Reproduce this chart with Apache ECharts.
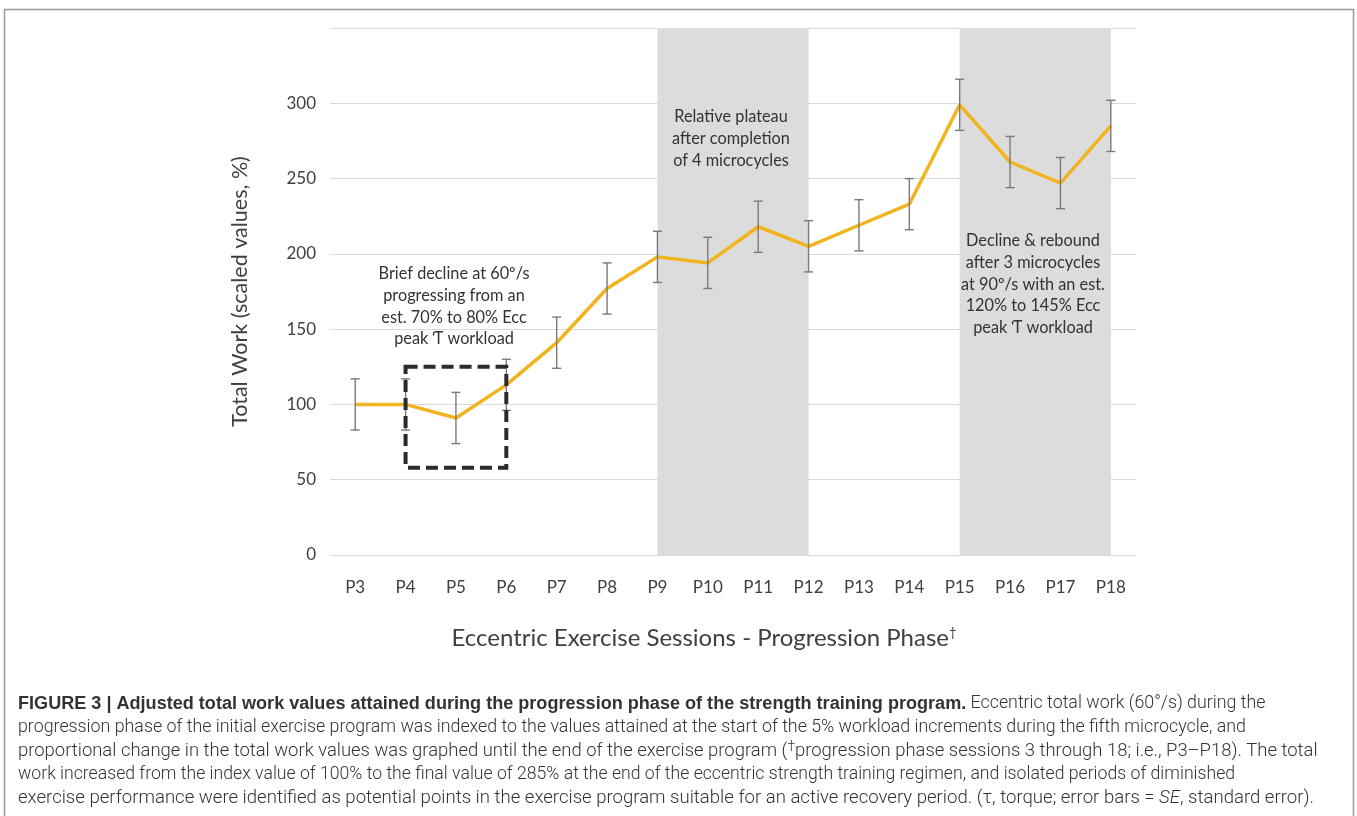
<!DOCTYPE html>
<html><head><meta charset="utf-8">
<script src="https://cdn.jsdelivr.net/npm/echarts@6/dist/echarts.min.js"></script>
<style>html,body{margin:0;padding:0;background:#fff}#c{width:1357px;height:816px}</style>
</head><body><div id="c"></div>
<script>
// ---- data ----
const categories = ['P3','P4','P5','P6','P7','P8','P9','P10','P11','P12','P13','P14','P15','P16','P17','P18'];
const totalWork  = [100, 100, 91, 113, 141, 177, 198, 194, 218, 205, 219, 233, 299, 261, 247, 285];
const stdError   = [17, 17, 17, 17, 17, 17, 17, 17, 17, 17, 17, 17, 17, 17, 17, 17];
const yMin = 0, yMax = 350, yInterval = 50;
const shadedBands = [['P9','P12'], ['P15','P18']];
const declineBox = { from: 'P4', to: 'P6', top: 125, bottom: 58 };
const yAxisTitle = 'Total Work (scaled values, %)';
const xAxisTitle = 'Eccentric Exercise Sessions - Progression Phase';
const noteDecline = ['Brief decline at 60º/s', 'progressing from an', 'est. 70% to 80% Ecc', 'peak Ƭ workload'];
const notePlateau = ['Relative plateau', 'after completion', 'of 4 microcycles'];
const noteRebound = ['Decline & rebound', 'after 3 microcycles', 'at 90º/s with an est.', '120% to 145% Ecc', 'peak Ƭ workload'];
const captionBold = 'FIGURE 3 | Adjusted total work values attained during the progression phase of the strength training program.';
const captionLines = [
  [['b', captionBold], ['n', ' Eccentric total work (60°/s) during the']],
  [['n', 'progression phase of the initial exercise program was indexed to the values attained at the start of the 5% workload increments during the fifth microcycle, and']],
  [['n', 'proportional change in the total work values was graphed until the end of the exercise program ('], ['sup', '†'], ['n', 'progression phase sessions 3 through 18; i.e., P3–P18). The total']],
  [['n', 'work increased from the index value of 100% to the final value of 285% at the end of the eccentric strength training regimen, and isolated periods of diminished']],
  [['n', 'exercise performance were identified as potential points in the exercise program suitable for an active recovery period. (τ, torque; error bars = '], ['i', 'SE'], ['n', ', standard error).']]
];
const captionLineEnds = [null, 1247, 1318, 1236, 1315];

// ---- layout helpers ----
const FONT = 'Lato, "Open Sans", sans-serif';
const CAP_FONT = 'Roboto';
const BOLD_FONT = '"Liberation Sans"';
const CAP_X = 18;
const mctx = document.createElement('canvas').getContext('2d');
function measure(str, font) { mctx.font = font; return mctx.measureText(str).width; }
const boldSize = 100 * 949 / measure(captionBold, 'bold 100px ' + BOLD_FONT);
function segFont(kind, size) {
  if (kind === 'b') return 'bold ' + boldSize + 'px ' + BOLD_FONT;
  if (kind === 'i') return 'italic 300 ' + size + 'px ' + CAP_FONT;
  if (kind === 'sup') return '300 ' + (size * 0.75) + 'px ' + CAP_FONT;
  return '300 ' + size + 'px ' + CAP_FONT;
}
function fitLine(segs, end) {
  let varW = 0;
  segs.forEach(([kind, txt]) => { varW += measure(txt, segFont(kind, 100)); });
  return 100 * (end - CAP_X) / varW;
}
const baseCapSize = fitLine(captionLines[1], captionLineEnds[1]);

const chart = echarts.init(document.getElementById('c'), null, { renderer: 'canvas' });

const errData = categories.map((c, i) => [i, totalWork[i], stdError[i]]);

function noteGraphic(lines, cx, top) {
  return {
    type: 'text', x: cx, y: top, z: 10,
    style: {
      text: lines.join('\n'), textAlign: 'center', textVerticalAlign: 'top',
      font: '16.3px ' + FONT, fill: '#333', lineHeight: 21.7
    }
  };
}

const graphics = [
  { type: 'rect', z: 0, shape: { x: 4.5, y: 9.5, width: 1349, height: 900 }, style: { fill: 'none', stroke: '#9a9a9a', lineWidth: 1.5 } },
  noteGraphic(noteDecline, 454, 263),
  noteGraphic(notePlateau, 731, 106),
  noteGraphic(noteRebound, 1033, 230)
];
captionLines.forEach((segs, k) => {
  const size = captionLineEnds[k] ? fitLine(segs, captionLineEnds[k]) : baseCapSize;
  const rich = {
    b: { fontFamily: BOLD_FONT, fontWeight: 'bold', fontSize: boldSize, color: '#1a1a1a' },
    n: { fontFamily: CAP_FONT, fontWeight: 300, fontSize: size, color: '#2e2e2e' },
    i: { fontFamily: CAP_FONT, fontWeight: 300, fontStyle: 'italic', fontSize: size, color: '#2e2e2e' },
    sup: { fontFamily: CAP_FONT, fontWeight: 300, fontSize: size * 0.75, color: '#2e2e2e', verticalAlign: 'top', padding: [0, 0, 6, 0] }
  };
  const text = segs.map(([kind, txt]) => '{' + kind + '|' + txt + '}').join('');
  graphics.push({
    type: 'text', x: CAP_X, y: 704 + k * 23.5, z: 10,
    style: { text: text, rich: rich, textVerticalAlign: 'middle', textAlign: 'left', fill: '#333', font: '300 ' + size + 'px ' + CAP_FONT }
  });
});

const option = {
  animation: false,
  backgroundColor: '#fff',
  textStyle: { fontFamily: FONT },
  grid: { left: 330, right: 221, top: 28, bottom: 261, containLabel: false },
  xAxis: {
    type: 'category', data: categories, boundaryGap: true,
    axisLine: { show: true, lineStyle: { color: '#d9d9d9', width: 1 } },
    axisTick: { show: false },
    axisLabel: { color: '#404040', fontSize: 17, margin: 24, fontFamily: FONT },
    name: xAxisTitle + '{sup|†}', nameLocation: 'middle', nameGap: 71,
    nameTextStyle: { color: '#404040', fontSize: 24, fontFamily: FONT, padding: [0, 58, 0, 0],
      rich: { sup: { fontSize: 13, color: '#404040', verticalAlign: 'top', padding: [0, 0, 12, 0], fontFamily: FONT } } }
  },
  yAxis: {
    type: 'value', min: yMin, max: yMax, interval: yInterval, z: 1,
    axisLine: { show: false }, axisTick: { show: false },
    axisLabel: { color: '#404040', fontSize: 17, margin: 14, showMaxLabel: false, fontFamily: FONT },
    splitLine: { lineStyle: { color: '#d9d9d9', width: 1 } },
    name: yAxisTitle, nameLocation: 'middle', nameRotate: 90, nameGap: 79,
    nameTextStyle: { color: '#404040', fontSize: 21.5, fontFamily: FONT }
  },
  graphic: graphics,
  series: [
    {
      name: 'bands', type: 'line', data: [], z: 0, silent: true,
      markArea: { silent: true, itemStyle: { color: '#dcdcdc' },
        data: shadedBands.map(b => [{ xAxis: b[0] }, { xAxis: b[1] }]) }
    },
    {
      name: 'errors', type: 'custom', z: 3, data: errData, silent: true,
      renderItem: function (params, api) {
        const x = api.value(0), v = api.value(1), e = api.value(2);
        const hi = api.coord([x, v + e]), lo = api.coord([x, v - e]);
        const w = 4.5;
        const st = { stroke: '#7a7a7a', lineWidth: 1.4 };
        return { type: 'group', children: [
          { type: 'line', shape: { x1: hi[0], y1: hi[1], x2: lo[0], y2: lo[1] }, style: st },
          { type: 'line', shape: { x1: hi[0] - w, y1: hi[1], x2: hi[0] + w, y2: hi[1] }, style: st },
          { type: 'line', shape: { x1: lo[0] - w, y1: lo[1], x2: lo[0] + w, y2: lo[1] }, style: st }
        ] };
      }
    },
    {
      name: 'Total work', type: 'line', data: totalWork, z: 2,
      showSymbol: false, symbol: 'none',
      lineStyle: { color: '#f2b41e', width: 3.5 }
    },
    {
      name: 'box', type: 'line', data: [], z: 5, silent: true,
      markArea: { silent: true, z: 5,
        itemStyle: { color: 'rgba(0,0,0,0)', borderColor: '#2b2b2b', borderWidth: 4, borderType: [12, 6] },
        data: [[{ xAxis: declineBox.from, yAxis: declineBox.top }, { xAxis: declineBox.to, yAxis: declineBox.bottom }]] }
    }
  ]
};
chart.setOption(option);
</script>
</body></html>
